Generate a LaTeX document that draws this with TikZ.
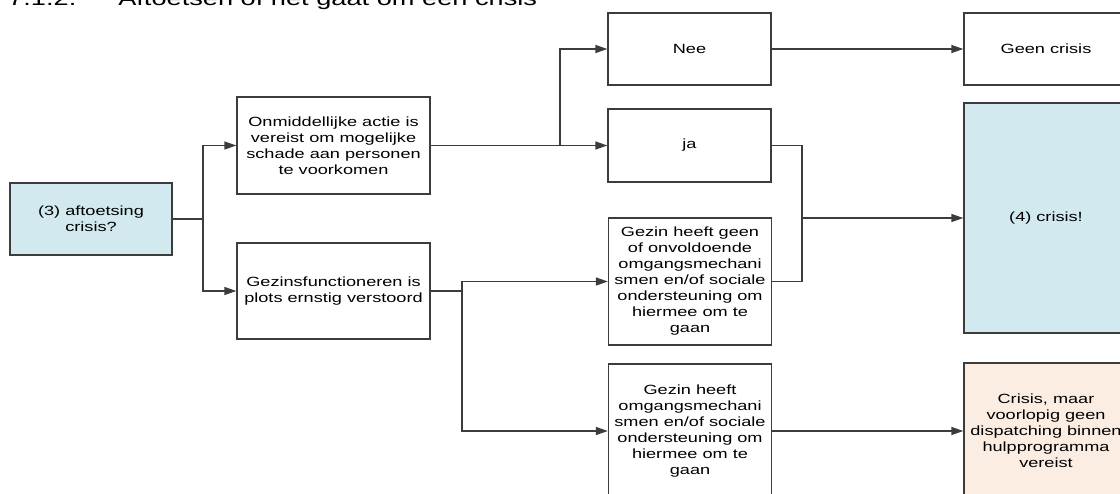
\documentclass[tikz,border=0pt]{standalone}
\usepackage{fontspec}
\setmainfont{Liberation Sans}[FakeStretch=1.36]
\usetikzlibrary{arrows.meta}
\definecolor{lichtblauw}{HTML}{D2E9EF}
\definecolor{perzik}{HTML}{FCEDE2}
\definecolor{lijn}{HTML}{3C3C3C}

\begin{document}
\begin{tikzpicture}[x=0.75pt,y=-0.75pt,
  vak/.style={draw=lijn,line width=1pt,fill=white,align=center,inner sep=0pt,
    font=\fontsize{10}{12}\selectfont},
  kop/.style={anchor=base west,inner sep=0pt,font=\fontsize{15}{18}\selectfont},
  pijl/.style={draw=lijn,line width=1pt,-{Triangle[length=9pt,width=6pt]}},
  lijntje/.style={draw=lijn,line width=1pt}]
\useasboundingbox (0,0) rectangle (1120,493);
\clip (0,0) rectangle (1120,493);
\node[kop] (nr) at (8,5) {7.1.2.};
\node[kop] (titel) at (118,5) {Aftoetsen of het gaat om een crisis};
\node[vak,fill=lichtblauw,minimum width=121.5pt,minimum height=54pt] (crisisq) at (91,219) {(3) aftoetsing\\crisis?};
\node[vak,minimum width=144.75pt,minimum height=72.75pt] (onmid) at (333.5,145.5) {Onmiddellijke actie is\\vereist om mogelijke\\schade aan personen\\te voorkomen};
\node[vak,minimum width=144.75pt,minimum height=72pt] (gezins) at (333.5,291) {Gezinsfunctioneren is\\plots ernstig verstoord};
\node[vak,minimum width=122.25pt,minimum height=54pt] (nee) at (689.5,49) {Nee};
\node[vak,minimum width=122.25pt,minimum height=54.75pt] (ja) at (689.5,145.5) {ja};
\node[vak,minimum width=122.25pt,minimum height=95.25pt] (geen) at (690,281.5) {Gezin heeft geen\\of onvoldoende\\omgangsmechani\\smen en/of sociale\\ondersteuning om\\hiermee om te\\gaan};
\node[vak,minimum width=122.25pt,minimum height=100.5pt] (heeft) at (690,431) {Gezin heeft\\omgangsmechani\\smen en/of sociale\\ondersteuning om\\hiermee om te\\gaan};
\node[vak,minimum width=123pt,minimum height=54pt] (geencrisis) at (1046,49) {Geen crisis};
\node[vak,fill=lichtblauw,minimum width=123pt,minimum height=172.5pt] (crisis) at (1046,218) {(4) crisis!};
\node[vak,fill=perzik,minimum width=123pt,minimum height=102pt] (maar) at (1046,431) {Crisis, maar\\voorlopig geen\\dispatching binnen\\hulpprogramma\\vereist};
\coordinate (samen) at (802,218);
\draw[pijl] (crisisq.east) -- (203,219) |- (onmid);
\draw[pijl] (crisisq.east) -- (203,219) |- (gezins);
\draw[pijl] (onmid.east) -- (560,145.5) |- (nee);
\draw[pijl] (onmid) -- (ja);
\draw[pijl] (gezins.east) -- (462,291) |- (geen);
\draw[pijl] (gezins.east) -- (462,291) |- (heeft);
\draw[lijntje] (ja.east) -| (samen) |- (geen.east);
\draw[pijl] (samen) -- (crisis);
\draw[pijl] (nee) -- (geencrisis);
\draw[pijl] (heeft) -- (maar);
\end{tikzpicture}
\end{document}
